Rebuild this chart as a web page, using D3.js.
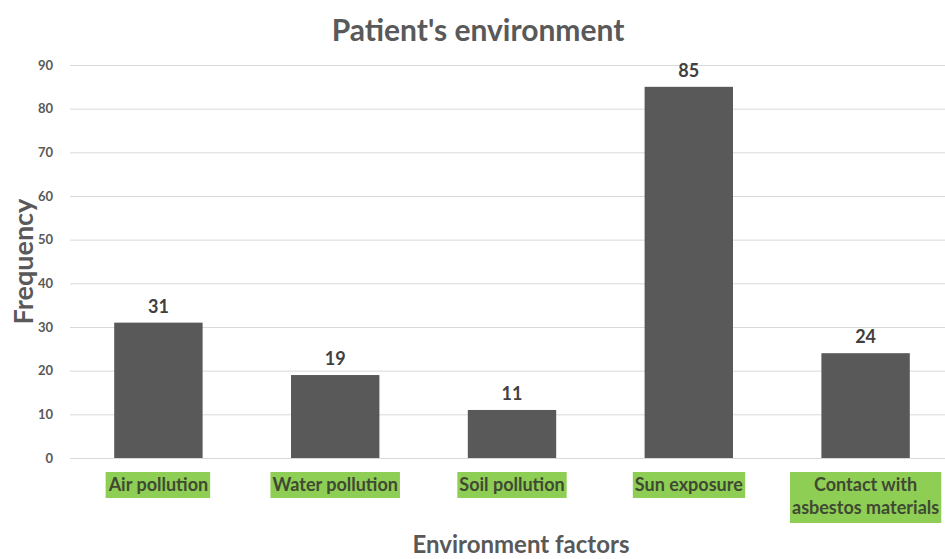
<!DOCTYPE html>
<html>
<head>
<meta charset="utf-8">
<script src="https://cdn.jsdelivr.net/npm/d3@7"></script>
<style>
  html, body { margin: 0; padding: 0; background: #fff; }
  svg { display: block; }
  text { font-family: Lato, "Open Sans", sans-serif; }
</style>
</head>
<body>
<svg id="chart" width="945" height="559"></svg>
<script>
// Environment factors reported by patients
const categories = ["Air pollution", "Water pollution", "Soil pollution", "Sun exposure", "Contact with\nasbestos materials"];
const frequencies = [31, 19, 11, 85, 24];
const yTicks = [0, 10, 20, 30, 40, 50, 60, 70, 80, 90];

const svg = d3.select("#chart");
const margin = { left: 70, right: -9, top: 65, bottom: 101 };
const width = 945, height = 559;

const x = d3.scaleBand()
  .domain(categories)
  .range([margin.left, width - margin.right])
  .paddingInner(0.5)
  .paddingOuter(0.25);

const y = d3.scaleLinear()
  .domain([0, 90])
  .range([height - margin.bottom, margin.top]);

// Gridlines and y tick labels
const yAxis = d3.axisLeft(y)
  .tickValues(yTicks)
  .tickSize(-(width - margin.right - margin.left))
  .tickPadding(17);

const gy = svg.append("g")
  .attr("transform", `translate(${margin.left},0)`)
  .call(yAxis);
gy.select(".domain").remove();
gy.selectAll(".tick line").attr("stroke", "#d9d9d9").attr("stroke-width", 1);
gy.selectAll(".tick text")
  .attr("fill", "#595959")
  .style("font-size", "13px")
  .style("font-weight", "bold");

// Bars
svg.append("g").selectAll("rect")
  .data(frequencies)
  .join("rect")
  .attr("x", (d, i) => x(categories[i]))
  .attr("width", x.bandwidth())
  .attr("y", d => y(d))
  .attr("height", d => y(0) - y(d))
  .attr("fill", "#595959");

// Value labels
svg.append("g").selectAll("text")
  .data(frequencies)
  .join("text")
  .attr("x", (d, i) => x(categories[i]) + x.bandwidth() / 2)
  .attr("y", d => y(d) - 10)
  .attr("text-anchor", "middle")
  .attr("fill", "#404040")
  .style("font-size", "18px")
  .style("font-weight", "bold")
  .text(d => d);

// Category labels on green highlight
const catG = svg.append("g");
categories.forEach((c, i) => {
  const cx = x(c) + x.bandwidth() / 2;
  const lines = c.split("\n");
  const g = catG.append("g");
  const t = g.append("text")
    .attr("text-anchor", "middle")
    .attr("fill", "#3f4a32")
    .style("font-size", "18px")
    .style("font-weight", "bold");
  lines.forEach((ln, k) => {
    t.append("tspan").attr("x", cx).attr("y", 491 + k * 23).text(ln);
  });
  const bb = t.node().getBBox();
  g.insert("rect", "text")
    .attr("x", bb.x - 2)
    .attr("y", 472)
    .attr("width", bb.width + 4)
    .attr("height", lines.length * 25 + 1)
    .attr("fill", "#8fce55");
});

// Title
svg.append("text")
  .attr("x", 478).attr("y", 41)
  .attr("text-anchor", "middle")
  .attr("fill", "#595959")
  .style("font-size", "30px")
  .style("font-weight", "bold")
  .text("Patient's environment");

// Axis titles
svg.append("text")
  .attr("x", 521).attr("y", 553)
  .attr("text-anchor", "middle")
  .attr("fill", "#595959")
  .style("font-size", "24px")
  .style("font-weight", "bold")
  .text("Environment factors");

svg.append("text")
  .attr("transform", `translate(33,${(198 + 325) / 2}) rotate(-90)`)
  .attr("text-anchor", "middle")
  .attr("fill", "#595959")
  .style("font-size", "27px")
  .style("font-weight", "bold")
  .text("Frequency");
</script>
</body>
</html>
